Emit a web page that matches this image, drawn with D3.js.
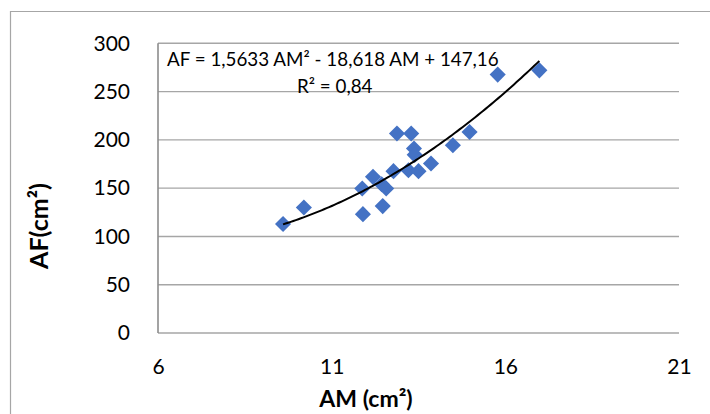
<!DOCTYPE html>
<html>
<head>
<meta charset="utf-8">
<script src="https://cdn.jsdelivr.net/npm/d3@7"></script>
<style>
  html, body { margin: 0; padding: 0; background: #fff; }
  svg { display: block; font-family: Lato, "Open Sans", sans-serif; }
</style>
</head>
<body>
<svg id="chart" width="710" height="414"></svg>
<script>
// ---- data ----
const am = [9.60, 10.20, 11.90, 11.88, 12.19, 12.47, 12.44, 12.57, 12.78, 12.88, 13.29, 13.37, 13.39, 13.21, 13.50, 13.86, 14.49, 14.97, 15.78, 16.98];
const af = [112.8, 130.0, 123.1, 149.7, 161.7, 131.4, 154.1, 149.7, 167.6, 206.6, 206.6, 191.0, 184.5, 168.6, 167.6, 175.5, 194.5, 208.2, 267.6, 272.0];
const xTicks = [6, 11, 16, 21];
const yTicks = [0, 50, 100, 150, 200, 250, 300];
const trendCoef = [1.5633, -18.618, 147.16];   // a*x^2 + b*x + c
const equationText = "AF = 1,5633 AM² - 18,618 AM + 147,16";
const r2Text = "R² = 0,84";
const xTitle = "AM (cm²)";
const yTitle = "AF(cm²)";

// ---- layout ----
const svg = d3.select("#chart");
const L = 158, R = 679, T = 43.3, B = 333;
const x = d3.scaleLinear().domain([6, 21]).range([L, R]);
const y = d3.scaleLinear().domain([0, 300]).range([B, T]);

// outer chart border
svg.append("path")
  .attr("d", "M10.5,420 L10.5,11.5 L720,11.5")
  .attr("fill", "none").attr("stroke", "#a6a6a6").attr("stroke-width", 1.2);

// gridlines
svg.append("g").selectAll("line").data(yTicks.filter(d => d > 0)).join("line")
  .attr("x1", L).attr("x2", R)
  .attr("y1", d => y(d)).attr("y2", d => y(d))
  .attr("stroke", "#a6a6a6").attr("stroke-width", 1.4);

// axes lines
svg.append("line").attr("x1", L).attr("x2", R).attr("y1", B).attr("y2", B)
  .attr("stroke", "#a6a6a6").attr("stroke-width", 1.4);
svg.append("line").attr("x1", L).attr("x2", L).attr("y1", T).attr("y2", B)
  .attr("stroke", "#8c8c8c").attr("stroke-width", 1.6);

// y tick labels
const yAxis = d3.axisLeft(y).tickValues(yTicks).tickSize(0).tickPadding(28);
const gy = svg.append("g").attr("transform", `translate(${L},0)`).call(yAxis);
gy.select(".domain").remove();
gy.selectAll("text").attr("font-size", 21).attr("fill", "#000").attr("font-family", "Lato, sans-serif");

// x tick labels
const xAxis = d3.axisBottom(x).tickValues(xTicks).tickSize(0).tickPadding(26);
const gx = svg.append("g").attr("transform", `translate(0,${B})`).call(xAxis);
gx.select(".domain").remove();
gx.selectAll("text").attr("font-size", 21).attr("fill", "#000").attr("font-family", "Lato, sans-serif");

// axis titles
svg.append("text").attr("x", 366).attr("y", 407).attr("text-anchor", "middle")
  .attr("font-size", 23).attr("font-weight", "bold").text(xTitle);
svg.append("text").attr("transform", "translate(48,226) rotate(-90)").attr("text-anchor", "middle")
  .attr("font-size", 25).attr("font-weight", "bold").text(yTitle);

// points (diamonds)
const pts = am.map((v, i) => ({ x: v, y: af[i] }));
const sym = d3.symbol().type(d3.symbolDiamond2).size(165);
svg.append("g").selectAll("path").data(pts).join("path")
  .attr("transform", d => `translate(${x(d.x)},${y(d.y)})`)
  .attr("d", sym)
  .attr("fill", "#4472c4");

// trend line
const xmin = d3.min(am), xmax = d3.max(am);
const tline = d3.range(0, 101).map(i => {
  const v = xmin + (xmax - xmin) * i / 100;
  return [v, trendCoef[0] * v * v + trendCoef[1] * v + trendCoef[2]];
});
svg.append("path").datum(tline)
  .attr("d", d3.line().x(d => x(d[0])).y(d => y(d[1])))
  .attr("fill", "none").attr("stroke", "#000").attr("stroke-width", 2);

// equation labels
svg.append("text").attr("x", 167).attr("y", 66).attr("font-size", 18.8).text(equationText);
svg.append("text").attr("x", 297).attr("y", 93).attr("font-size", 18.8).text(r2Text);
</script>
</body>
</html>
